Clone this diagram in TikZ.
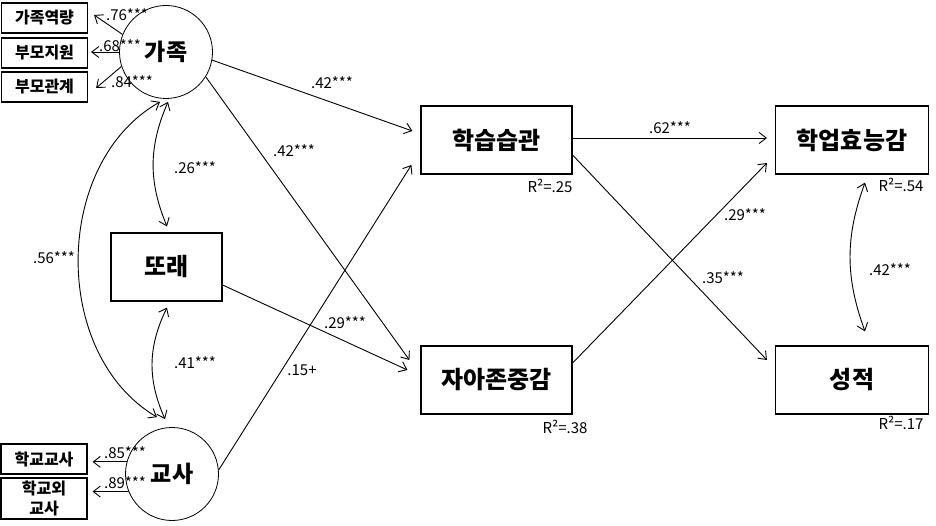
\documentclass[tikz,border=0pt]{standalone}
\usepackage{fontspec}
\setmainfont{Noto Sans CJK KR}
\usetikzlibrary{arrows.meta,calc}
\begin{document}
\begin{tikzpicture}[x=1pt,y=-1pt,
  sbox/.style={draw, line width=1.2pt, minimum width=86pt, minimum height=30pt, inner sep=0pt, font=\bfseries\fontsize{16}{20}\selectfont},
  mbox/.style={draw, line width=1.2pt, minimum width=151pt, minimum height=68pt, inner sep=0pt, font=\bfseries\fontsize{24}{24}\selectfont},
  lat/.style={draw, circle, line width=0.8pt, minimum size=93pt, inner sep=0pt, font=\bfseries\fontsize{23}{23}\selectfont},
  coef/.style={font=\fontsize{15}{15}\selectfont, inner sep=0pt},
  arr/.style={line width=0.9pt, -{Straight Barb[length=7pt,width=11pt]}},
  darr/.style={line width=0.9pt, {Straight Barb[length=7pt,width=11pt]}-{Straight Barb[length=7pt,width=11pt]}}]
\useasboundingbox (0,0) rectangle (936,526);
% latent circles
\node[lat] (fam) at (166,52) {가족};
\node[lat] (tch) at (172,474) {교사};
% indicators
\node[sbox] (b1) at (44.5,18) {가족역량};
\node[sbox] (b2) at (44.5,53) {부모지원};
\node[sbox] (b3) at (44.5,87) {부모관계};
\node[sbox] (t1) at (44,459) {학교교사};
\node[sbox, minimum height=41pt, align=center] (t2) at (44,498.5) {학교외\\교사};
% main boxes
\node[mbox, minimum width=111pt] (peer) at (166.5,267) {또래};
\node[mbox] (hab) at (496.5,140) {학습습관};
\node[mbox] (self) at (496.5,380) {자아존중감};
\node[mbox, minimum width=153pt] (eff) at (852,140) {학업효능감};
\node[mbox, minimum width=153pt] (grd) at (852,380) {성적};
% loadings
\draw[arr] (fam.158) -- ($(b1.east)+(6,-3)$);
\draw[arr] (fam.180) -- ($(b2.east)+(3,-1)$);
\draw[arr] (fam.198) -- ($(b3.east)+(8,1)$);
\draw[arr] (tch.165) -- ($(tch.165 -| t1.east)+(5,0)$);
\draw[arr] (tch.202) -- ($(tch.202 -| t1.east)+(5,0)$);
% paths
\draw[arr] (fam.-10) -- ($(hab.west)+(-8,-9)$);
\draw[arr] (fam.-32) -- ($(self.west)+(-11,-20)$);
\draw[arr] ($(peer.east)+(0,18)$) -- ($(self.west)+(-13,-10)$);
\draw[arr] (tch.5) -- ($(hab.west)+(-9,25)$);
\draw[arr] ($(hab.east)+(0,-2)$) -- ($(eff.west)+(-8,-2)$);
\draw[arr] ($(self.east)+(0,-17)$) -- ($(eff.west)+(-8,23)$);
\draw[arr] ($(hab.east)+(0,15)$) -- ($(grd.west)+(-8,-20)$);
% correlations
\draw[darr] ($(fam.south)+(2,3)$) to[bend right=23] ($(peer.north)+(0.5,-6)$);
\draw[darr] ($(peer.south)+(0.5,6)$) to[bend right=25] ($(tch.north)+(-7,-8)$);
\draw[darr] ($(fam.south)+(-6,3)$) to[bend right=60] ($(tch.north)+(-15,-10)$);
\draw[darr] ($(eff.south)+(13,8)$) to[bend right=20] ($(grd.north)+(13,-14)$);
% coefficient labels
\node[coef] at (127,15) {.76***};
\node[coef] at (120,46) {.68***};
\node[coef] at (132,82) {.84***};
\node[coef] at (125,453) {.85***};
\node[coef] at (125,483) {.89***};
\node[coef] at (195,168) {.26***};
\node[coef] at (195,363) {.41***};
\node[coef] at (54,258) {.56***};
\node[coef] at (332,83) {.42***};
\node[coef] at (294,151) {.42***};
\node[coef] at (345,323) {.29***};
\node[coef] at (302,370) {.15+};
\node[coef] at (670,128) {.62***};
\node[coef] at (745,215) {.29***};
\node[coef] at (723,278) {.35***};
\node[coef] at (890,270) {.42***};
% R squared
\node[coef] at (550,186) {R²=.25};
\node[coef] at (565,427) {R²=.38};
\node[coef] at (901,185) {R²=.54};
\node[coef] at (901,423) {R²=.17};
\end{tikzpicture}
\end{document}
